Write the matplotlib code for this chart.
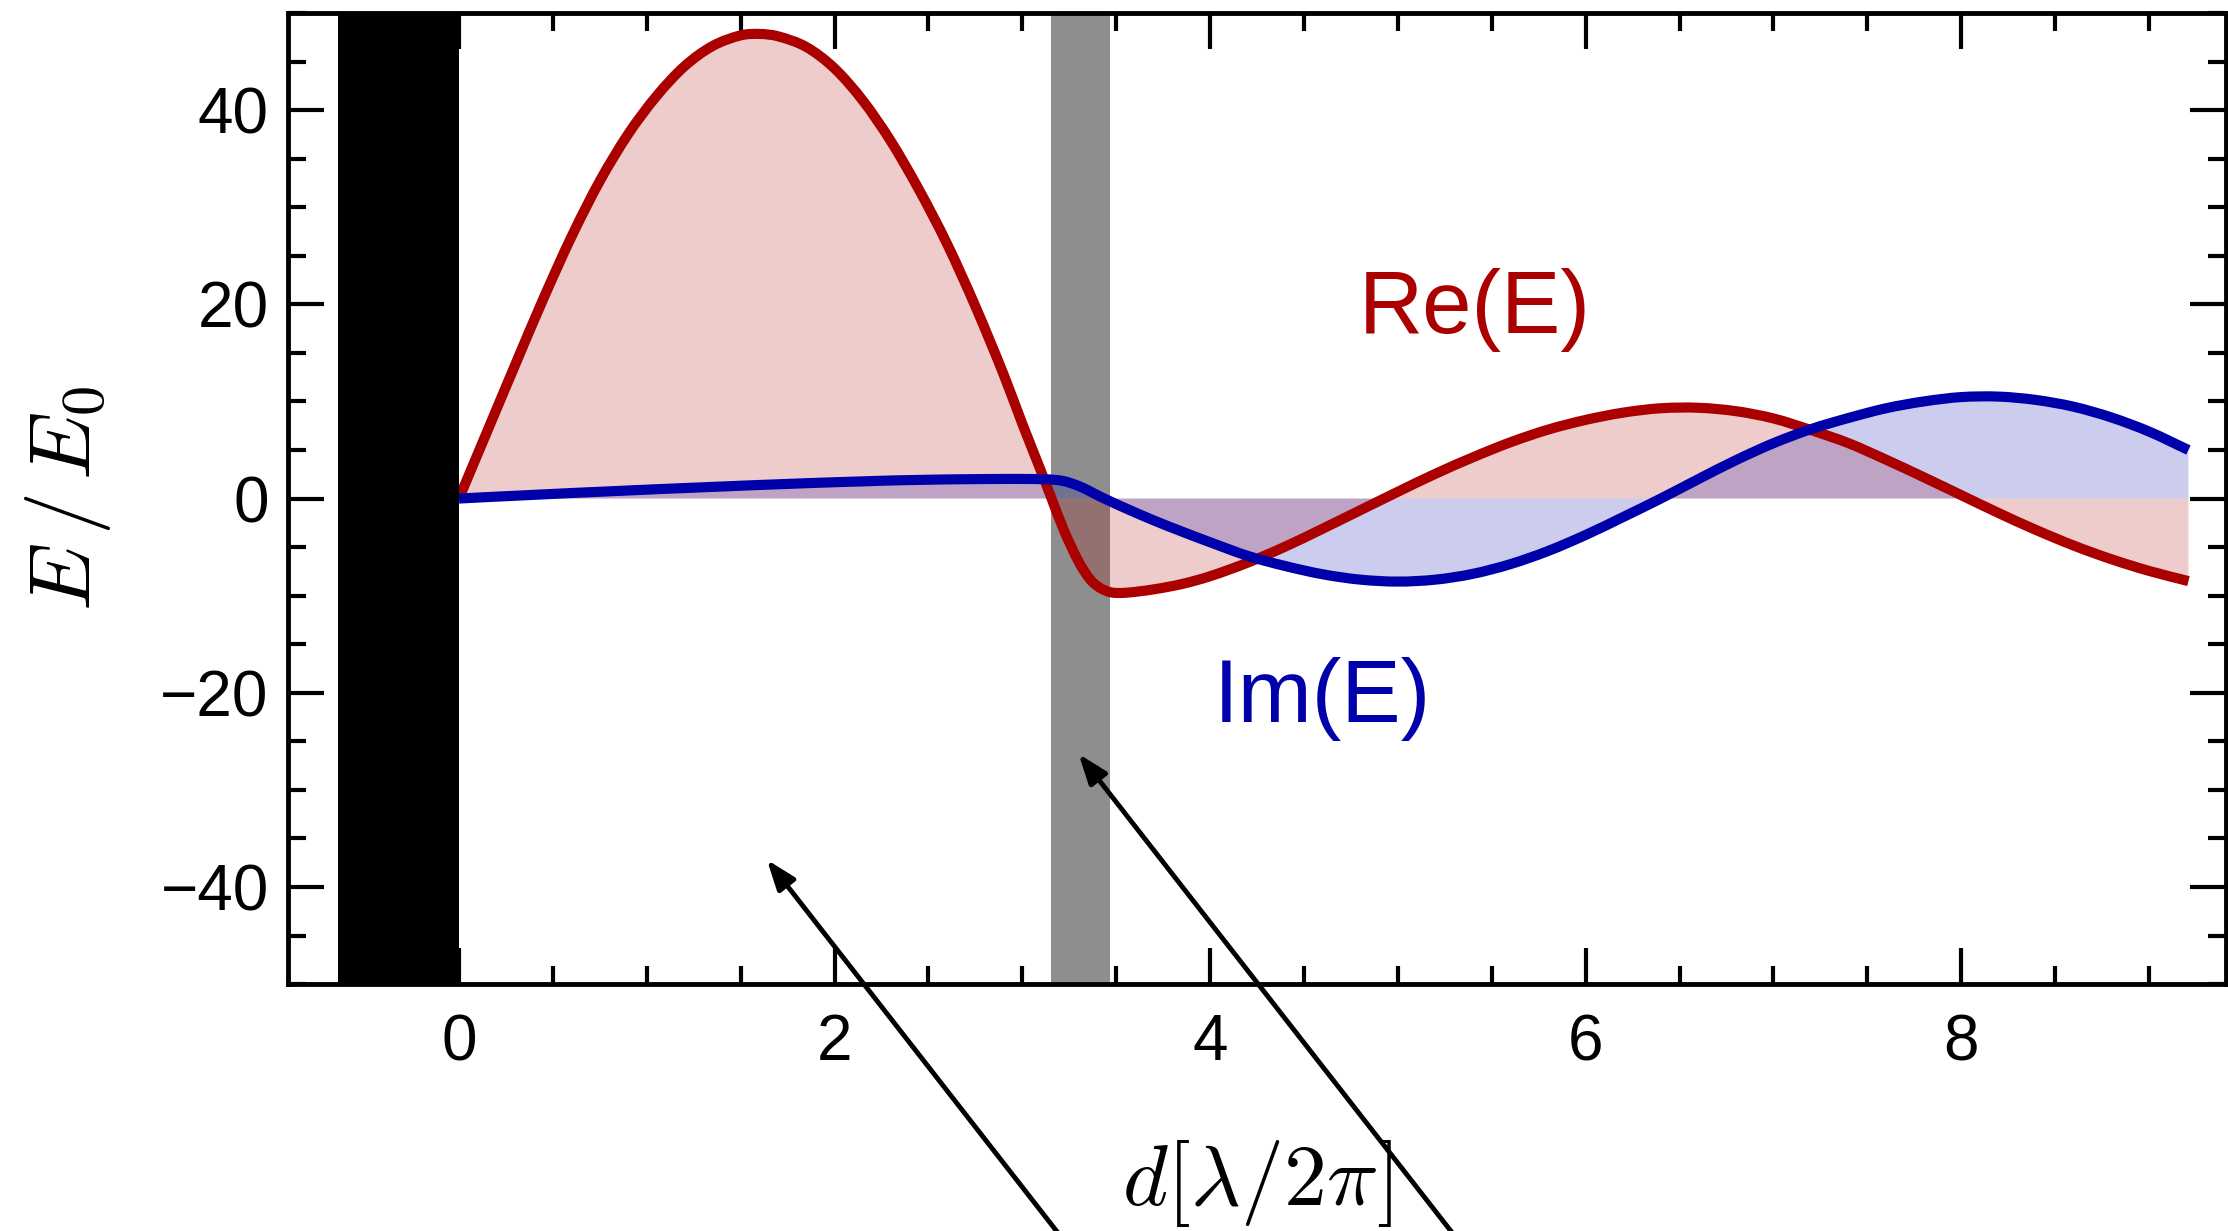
import matplotlib.pyplot as plt
from matplotlib.path import Path
from matplotlib.patches import PathPatch
from matplotlib.ticker import MultipleLocator

# field profile sampled along d (in units of lambda/2pi)
d = [0.0, 0.15, 0.3, 0.45, 0.6, 0.75, 0.9, 1.05, 1.2, 1.35,
     1.5, 1.6, 1.7, 1.85, 2.0, 2.15, 2.3, 2.45, 2.6, 2.75,
     2.9, 3.0, 3.1, 3.15, 3.22, 3.3, 3.36, 3.41, 3.47, 3.55,
     3.7, 3.85, 4.0, 4.2, 4.4, 4.6, 4.8, 5.0, 5.2, 5.4,
     5.6, 5.8, 6.0, 6.2, 6.4, 6.6, 6.8, 7.0, 7.2, 7.4,
     7.6, 7.8, 8.0, 8.2, 8.4, 8.6, 8.8, 9.0, 9.21]
re_E = [0.0, 6.9, 13.8, 20.6, 27.0, 32.7, 37.5, 41.4, 44.5, 46.6,
        47.7, 47.85, 47.6, 46.5, 44.3, 41.0, 36.8, 31.8, 26.2, 19.8,
        12.8, 7.7, 2.8, 0.3, -3.2, -6.5, -8.3, -9.15, -9.65, -9.7,
        -9.35, -8.8, -8.0, -6.6, -4.95, -3.1, -1.2, 0.7, 2.55, 4.25,
        5.8, 7.1, 8.1, 8.85, 9.3, 9.35, 9.0, 8.25, 7.05, 5.7,
        4.0, 2.2, 0.35, -1.5, -3.25, -4.85, -6.25, -7.45, -8.5]
im_E = [0.0, 0.15, 0.29, 0.43, 0.57, 0.7, 0.83, 0.96, 1.08, 1.2,
        1.32, 1.4, 1.47, 1.58, 1.68, 1.77, 1.86, 1.92, 1.97, 2.0,
        2.02, 2.02, 2.0, 1.96, 1.8, 1.3, 0.75, 0.25, -0.3, -1.0,
        -2.25, -3.4, -4.5, -5.9, -6.95, -7.8, -8.35, -8.55, -8.35, -7.75,
        -6.75, -5.4, -3.75, -1.9, 0.0, 2.0, 3.95, 5.7, 7.15, 8.3,
        9.3, 10.0, 10.45, 10.5, 10.15, 9.45, 8.35, 6.9, 5.0]

mirror = (-0.645, 0.0)     # metal block
layer = (3.155, 3.468)     # thin slab

# arrow tips and (off-canvas) tails
arrow_tips = [(1.64, -37.2), (3.30, -26.3)]
arrow_tails = [(3.79, -90.5), (5.89, -90.5)]

red = '#aa0000'
blue = '#0000aa'


def smooth_path(x, y, close_to_zero=False):
    # cubic Bezier segments through the samples (Catmull-Rom style tangents)
    n = len(x)
    slopes = []
    for i in range(n):
        a, b = max(i - 1, 0), min(i + 1, n - 1)
        slopes.append((y[b] - y[a]) / (x[b] - x[a]))
    verts = [(x[0], y[0])]
    codes = [Path.MOVETO]
    for i in range(n - 1):
        h = (x[i + 1] - x[i]) / 3
        verts += [(x[i] + h, y[i] + slopes[i] * h),
                  (x[i + 1] - h, y[i + 1] - slopes[i + 1] * h),
                  (x[i + 1], y[i + 1])]
        codes += [Path.CURVE4] * 3
    if close_to_zero:
        verts += [(x[-1], 0), (x[0], 0), (x[0], y[0])]
        codes += [Path.LINETO, Path.LINETO, Path.CLOSEPOLY]
    return Path(verts, codes)


plt.rcParams['font.family'] = ['Liberation Sans', 'DejaVu Sans']
plt.rcParams['mathtext.fontset'] = 'cm'

fig = plt.figure(figsize=(22.28, 12.31), dpi=100)
ax = fig.add_axes([0.1293, 0.2006, 0.8698, 0.7888])

ax.axvspan(*layer, color='#8e8e8e', lw=0, zorder=1)
ax.axvspan(*mirror, color='black', lw=0, zorder=5)

for y, c in [(re_E, red), (im_E, blue)]:
    ax.add_patch(PathPatch(smooth_path(d, y, True), facecolor=c, alpha=0.2,
                           lw=0, zorder=2))
for y, c in [(re_E, red), (im_E, blue)]:
    ax.add_patch(PathPatch(smooth_path(d, y), facecolor='none', edgecolor=c,
                           lw=7.3, capstyle='butt', joinstyle='round', zorder=4))

ax.text(5.41, 19.4, 'Re(E)', color=red, fontsize=64, ha='center', va='center')
ax.text(4.60, -20.6, 'Im(E)', color=blue, fontsize=64, ha='center', va='center')

for tip, tail in zip(arrow_tips, arrow_tails):
    ax.annotate('', xy=tip, xytext=tail, annotation_clip=False,
                arrowprops=dict(arrowstyle='-|>,head_length=0.6,head_width=0.22',
                                color='black', lw=3.5, mutation_scale=30,
                                shrinkA=0, shrinkB=0))

ax.set_xlim(-0.91, 9.41)
ax.set_ylim(-50, 50)
ax.set_xticks([0, 2, 4, 6, 8])
ax.set_yticks([-40, -20, 0, 20, 40])
ax.xaxis.set_minor_locator(MultipleLocator(0.5))
ax.yaxis.set_minor_locator(MultipleLocator(5))
ax.tick_params(which='both', direction='in', top=True, right=True,
               width=3, labelsize=46, colors='black')
ax.tick_params(which='major', length=26)
ax.tick_params(which='minor', length=13)
ax.tick_params(axis='x', pad=21)
ax.tick_params(axis='y', pad=14)
for s in ax.spines.values():
    s.set_linewidth(3.5)

ax.set_xlabel(r'$d[\lambda/2\pi]$', fontsize=62)
ax.xaxis.set_label_coords(0.5, -0.2276)
ax.xaxis.label.set_va('baseline')
ax.set_ylabel(r'$E\,/\,E_0$', fontsize=62)
ax.yaxis.set_label_coords(-0.1135, 0.5)
ax.yaxis.label.set_va('center')

fig.savefig('out.png', dpi=100)
